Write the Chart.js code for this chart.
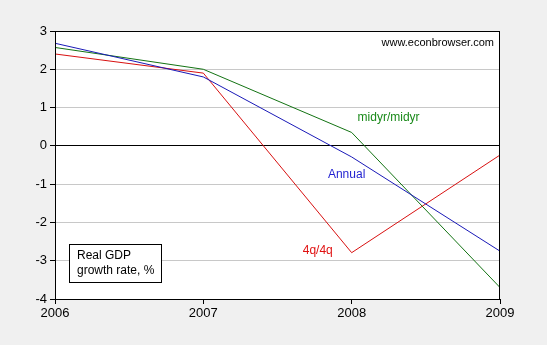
<!DOCTYPE html>
<html lang="en">
<head>
    <meta charset="UTF-8">
    <title>Real GDP growth rate</title>
    <script src="https://cdn.jsdelivr.net/npm/chart.js"></script>
    <style>
        body { margin: 0; background: #f0f0f0; }
    </style>
</head>
<body>
    <canvas id="myChart" width="547" height="345"></canvas>

    <script>
        // years and the three growth measures (%)
        var years = [2006, 2007, 2008, 2009];
        var annual = [2.68, 1.80, -0.29, -2.75];
        var midyr = [2.57, 2.00, 0.35, -3.70];
        var q4q4 = [2.40, 1.90, -2.79, -0.24];
        var yTicks = [-4, -3, -2, -1, 0, 1, 2, 3];

        // text labels placed in data coordinates
        var seriesLabels = [
            { text: 'midyr/midyr', x: 2008.04, y: 0.73, color: '#1a8a1a' },
            { text: 'Annual', x: 2007.84, y: -0.76, color: '#1f1fd0' },
            { text: '4q/4q', x: 2007.67, y: -2.74, color: '#e01010' }
        ];

        function toPoints(vals) {
            return vals.map(function (v, i) { return { x: years[i], y: v }; });
        }

        var extras = {
            id: 'extras',
            beforeDraw: function (chart) {
                var c = chart.ctx;
                c.save();
                c.fillStyle = '#f0f0f0';
                c.fillRect(0, 0, chart.width, chart.height);
                var a = chart.chartArea;
                c.fillStyle = '#ffffff';
                c.fillRect(a.left, a.top, a.right - a.left, a.bottom - a.top);
                c.restore();
            },
            afterDraw: function (chart) {
                var c = chart.ctx;
                var a = chart.chartArea;
                var xs = chart.scales.x, ys = chart.scales.y;
                c.save();
                // frame
                c.strokeStyle = '#000';
                c.lineWidth = 1;
                c.strokeRect(a.left + 0.5, a.top + 0.5, a.right - a.left - 1, a.bottom - a.top);

                c.font = '12px "Liberation Sans", Arial, sans-serif';
                c.textBaseline = 'middle';
                c.textAlign = 'left';
                seriesLabels.forEach(function (l) {
                    c.fillStyle = l.color;
                    c.fillText(l.text, xs.getPixelForValue(l.x), ys.getPixelForValue(l.y));
                });

                c.fillStyle = '#000';
                c.font = '11px "Liberation Sans", Arial, sans-serif';
                c.textAlign = 'right';
                c.fillText('www.econbrowser.com', a.right - 6, a.top + 12);

                // note box
                c.fillStyle = '#fff';
                c.fillRect(69.5, 244.5, 92, 38);
                c.strokeRect(69.5, 244.5, 92, 38);
                c.fillStyle = '#000';
                c.textAlign = 'left';
                c.font = '12px "Liberation Sans", Arial, sans-serif';
                c.fillText('Real GDP', 77, 256);
                c.fillText('growth rate, %', 77, 271);
                c.restore();
            }
        };

        var ctx = document.getElementById('myChart').getContext('2d');
        var myChart = new Chart(ctx, {
            type: 'line',
            data: {
                datasets: [
                    { label: 'Annual', data: toPoints(annual), borderColor: '#1a1ab8', borderWidth: 1 },
                    { label: 'midyr/midyr', data: toPoints(midyr), borderColor: '#137313', borderWidth: 1 },
                    { label: '4q/4q', data: toPoints(q4q4), borderColor: '#d81010', borderWidth: 1 }
                ]
            },
            options: {
                responsive: false,
                animation: false,
                events: [],
                elements: { point: { radius: 0 }, line: { tension: 0 } },
                layout: { padding: { top: 31, right: 47, left: 0, bottom: 0 } },
                plugins: { legend: { display: false }, tooltip: { enabled: false } },
                scales: {
                    x: {
                        type: 'linear',
                        min: 2006,
                        max: 2009,
                        afterFit: function (s) { s.height = 46; },
                        afterBuildTicks: function (s) {
                            s.ticks = years.map(function (v) { return { value: v }; });
                        },
                        ticks: {
                            color: '#000',
                            padding: 2,
                            maxRotation: 0,
                            font: { family: '"Liberation Sans", Arial, sans-serif', size: 13 },
                            callback: function (v) { return String(v); }
                        },
                        grid: { drawOnChartArea: false, drawTicks: true, tickLength: 5, color: '#000' },
                        border: { display: true, color: '#000' }
                    },
                    y: {
                        min: -4,
                        max: 3,
                        afterFit: function (s) { s.width = 55; },
                        afterBuildTicks: function (s) {
                            s.ticks = yTicks.map(function (v) { return { value: v }; });
                        },
                        ticks: {
                            color: '#000',
                            padding: 3,
                            font: { family: '"Liberation Sans", Arial, sans-serif', size: 13 }
                        },
                        grid: {
                            tickLength: 5,
                            tickColor: '#000',
                            color: function (c) {
                                return c.tick && c.tick.value === 0 ? '#000' : '#c8c8c8';
                            }
                        },
                        border: { display: true, color: '#000' }
                    }
                }
            },
            plugins: [extras]
        });
    </script>
</body>
</html>
